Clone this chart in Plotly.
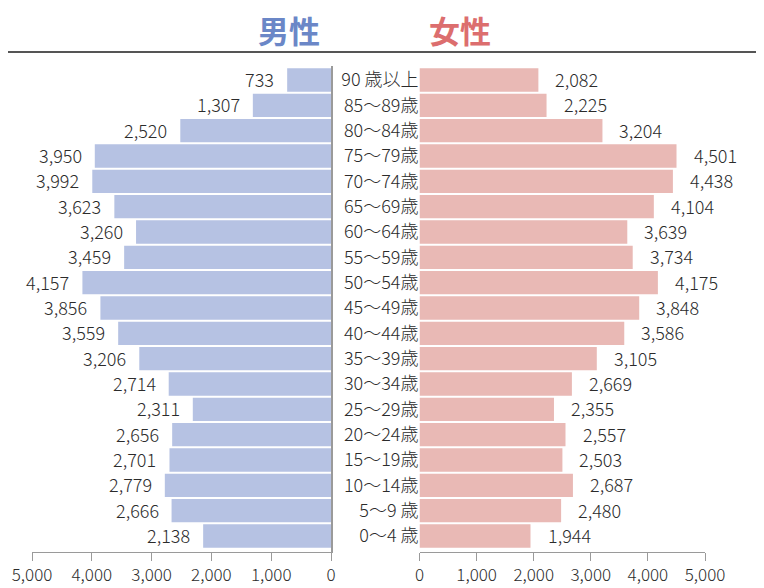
import plotly.graph_objects as go

age_groups = ["90 歳以上", "85～89歳", "80～84歳", "75～79歳", "70～74歳", "65～69歳",
              "60～64歳", "55～59歳", "50～54歳", "45～49歳", "40～44歳", "35～39歳",
              "30～34歳", "25～29歳", "20～24歳", "15～19歳", "10～14歳", "5～9 歳", "0～4 歳"]
male = [733, 1307, 2520, 3950, 3992, 3623, 3260, 3459, 4157, 3856, 3559, 3206,
        2714, 2311, 2656, 2701, 2779, 2666, 2138]
female = [2082, 2225, 3204, 4501, 4438, 4104, 3639, 3734, 4175, 3848, 3586, 3105,
          2669, 2355, 2557, 2503, 2687, 2480, 1944]
tick_vals = [0, 1000, 2000, 3000, 4000, 5000]
tick_text = ["0", "1,000", "2,000", "3,000", "4,000", "5,000"]

# page body has an 8px margin: figure is placed at (8, 8) in the window
OFF = 8
W, H = 764 - OFF, 588 - OFF
FONT = "Noto Sans CJK JP, sans-serif"
TXT = "#2b2b2b"
AX = "#9a9a9a"
MALE_BAR = "#b6c2e3"
FEMALE_BAR = "#e9b9b5"


def px(x):
    return (x - OFF) / W


def py(y):
    return 1 - (y - OFF) / H


fig = go.Figure()
fig.add_trace(go.Bar(y=age_groups, x=male, orientation="h", marker=dict(color=MALE_BAR, line=dict(width=0)),
                     xaxis="x", yaxis="y", showlegend=False, hoverinfo="x+y"))
fig.add_trace(go.Bar(y=age_groups, x=female, orientation="h", marker=dict(color=FEMALE_BAR, line=dict(width=0)),
                     xaxis="x2", yaxis="y2", showlegend=False, hoverinfo="x+y"))

NUMFONT = dict(family=FONT, size=18, color=TXT, weight=300)
TICKFONT = dict(family=FONT, size=17, color=TXT, weight=300)
annotations = []
for a, v in zip(age_groups, male):
    annotations.append(dict(x=v, y=a, xref="x", yref="y", text=f"{v:,}", showarrow=False,
                            xanchor="right", xshift=-11, yshift=1, font=NUMFONT))
for a, v in zip(age_groups, female):
    annotations.append(dict(x=v, y=a, xref="x2", yref="y2", text=f"{v:,}", showarrow=False,
                            xanchor="left", xshift=15, yshift=1, font=NUMFONT))
annotations.append(dict(x=px(289), y=py(29), xref="paper", yref="paper", text="<b>男性</b>",
                        showarrow=False, xanchor="center", yanchor="middle",
                        font=dict(family="Noto Sans CJK JP", size=31, color="#6b87c7")))
annotations.append(dict(x=px(460), y=py(29), xref="paper", yref="paper", text="<b>女性</b>",
                        showarrow=False, xanchor="center", yanchor="middle",
                        font=dict(family="Noto Sans CJK JP", size=31, color="#dc6e6e")))

ydom = [py(552), py(66)]
axis_common = dict(tickvals=tick_vals, ticktext=tick_text, ticks="outside", ticklen=8, tickcolor=AX,
                   showline=True, linecolor=AX, linewidth=1, showgrid=False, zeroline=False,
                   automargin=False, tickfont=TICKFONT, ticklabelstandoff=0, fixedrange=True)

fig.update_layout(
    width=W, height=H,
    margin=dict(l=0, r=0, t=0, b=0, pad=0, autoexpand=False),
    paper_bgcolor="white", plot_bgcolor="white",
    bargap=0.08,
    xaxis=dict(domain=[px(32), px(331)], range=[5000, 0], anchor="y", **axis_common),
    xaxis2=dict(domain=[px(419.5), px(705)], range=[0, 5000], anchor="y2", **axis_common),
    yaxis=dict(domain=ydom, anchor="x", type="category", categoryorder="array", categoryarray=age_groups,
               autorange="reversed", showticklabels=False, ticks="", side="right", automargin=False,
               showline=True, linecolor=AX, linewidth=1.5, showgrid=False, zeroline=False),
    yaxis2=dict(domain=ydom, anchor="x2", type="category", categoryorder="array", categoryarray=age_groups,
                autorange="reversed", showticklabels=True, ticks="", showline=False, showgrid=False,
                automargin=False, zeroline=False, tickfont=dict(family=FONT, size=18, color=TXT, weight=300)),
    annotations=annotations,
    shapes=[dict(type="line", xref="paper", yref="paper", x0=0, x1=1, y0=py(52), y1=py(52),
                 line=dict(color="#555555", width=2))],
)

fig.write_html("out.html")
